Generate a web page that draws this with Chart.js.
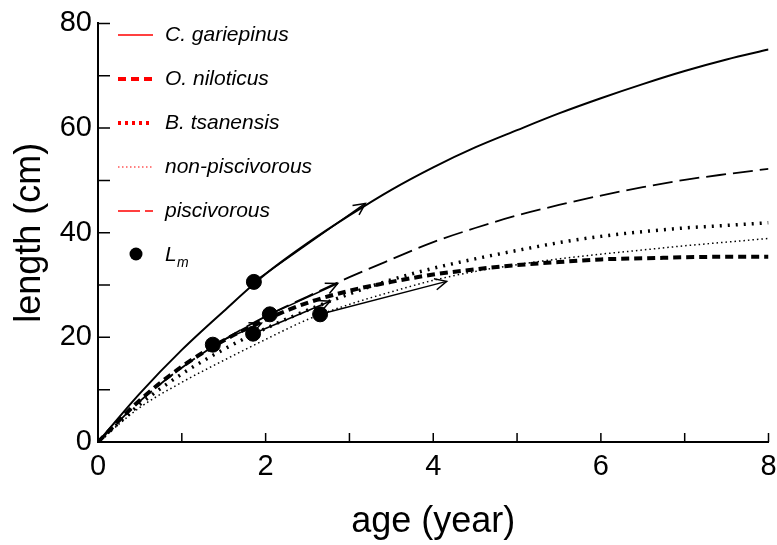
<!DOCTYPE html>
<html>
<head>
<meta charset="utf-8">
<script src="https://cdn.jsdelivr.net/npm/chart.js@4.4.0/dist/chart.umd.min.js"></script>
<style>
  html, body { margin: 0; padding: 0; background: #fff; }
  #wrap { width: 777px; height: 545px; }
</style>
</head>
<body>
<div id="wrap"><canvas id="mycanvas" width="777" height="545"></canvas></div>
<script>
// length at age (cm) for each growth curve
var ages        = [0, 0.5, 1, 1.5, 2, 2.5, 3, 3.5, 4, 4.5, 5, 5.5, 6, 6.5, 7, 7.5, 8];
var gariepinus  = [0, 9.3, 17.6, 25.0, 32.1, 38.0, 43.3, 48.2, 52.5, 56.3, 59.6, 62.8, 65.7, 68.4, 70.9, 73.1, 75.0];
var niloticus   = [0, 8.0, 14.4, 19.4, 23.4, 26.6, 28.9, 30.6, 32.0, 33.0, 33.8, 34.4, 34.9, 35.1, 35.3, 35.4, 35.4];
var tsanensis   = [0, 7.2, 13.0, 17.7, 21.7, 25.2, 28.3, 31.0, 33.2, 35.0, 36.6, 38.1, 39.3, 40.2, 40.9, 41.4, 41.9];
var nonPisc     = [0, 6.6, 11.4, 15.6, 19.6, 23.4, 26.3, 28.7, 30.9, 32.6, 33.9, 35.0, 35.9, 36.7, 37.5, 38.2, 38.9];
var pisc        = [0, 7.8, 14.2, 19.5, 24.0, 27.8, 31.5, 34.9, 38.2, 40.9, 43.3, 45.3, 47.1, 48.7, 50.1, 51.2, 52.2];

var seriesNames  = ['C. gariepinus', 'O. niloticus', 'B. tsanensis', 'non-piscivorous', 'piscivorous'];
var seriesValues = [gariepinus, niloticus, tsanensis, nonPisc, pisc];

// length at maturity
var lmAge    = [1.37, 1.86, 1.85, 2.05, 2.65];
var lmLength = [18.6, 30.6, 20.7, 24.4, 24.4];
// arrows start at each Lm point
var arrowEndAge    = [1.95, 3.19, 2.77, 2.86, 4.16];
var arrowEndLength = [22.7, 45.6, 26.9, 30.3, 30.7];

// line styles
var lineWidths = [2, 4, 3.5, 1.5, 1.8];
var chartDash  = [[], [8, 5], [2, 6], [1.5, 3], [20, 7]];
var legendDash = [[], [8, 5], [3, 4], [1.5, 2.5], [22, 5]];

var FONT = "'Liberation Sans', Arial, sans-serif";

var datasets = [];
for (var s = 0; s < seriesValues.length; s++) {
  var pts = [];
  for (var i = 0; i < ages.length; i++) {
    pts.push({ x: ages[i], y: seriesValues[s][i] });
  }
  datasets.push({
    label: seriesNames[s],
    data: pts,
    showLine: true,
    borderColor: '#000',
    borderWidth: lineWidths[s],
    borderDash: chartDash[s],
    pointRadius: 0,
    cubicInterpolationMode: 'monotone',
    fill: false,
    order: 2
  });
}
for (var a = 0; a < lmAge.length; a++) {
  datasets.push({
    label: 'arrow',
    isArrow: true,
    data: [{ x: lmAge[a], y: lmLength[a] }, { x: arrowEndAge[a], y: arrowEndLength[a] }],
    showLine: true,
    borderColor: '#000',
    borderWidth: 1.5,
    pointRadius: 0,
    order: 1
  });
}
var lmPts = [];
for (var k = 0; k < lmAge.length; k++) lmPts.push({ x: lmAge[k], y: lmLength[k] });
datasets.push({
  label: 'Lm',
  data: lmPts,
  showLine: false,
  pointRadius: 7.5,
  pointBackgroundColor: '#000',
  pointBorderColor: '#000',
  order: 0
});

// tick marks pointing into the plot
var innerTicks = {
  id: 'innerTicks',
  afterDraw: function(chart) {
    var ctx = chart.ctx, area = chart.chartArea;
    var xs = chart.scales.x, ys = chart.scales.y;
    ctx.save();
    ctx.strokeStyle = '#000';
    ctx.lineWidth = 1.5;
    ctx.beginPath();
    xs.ticks.forEach(function(t) {
      var px = xs.getPixelForValue(t.value);
      ctx.moveTo(px, area.bottom);
      ctx.lineTo(px, area.bottom - 9);
    });
    ys.ticks.forEach(function(t) {
      var py = ys.getPixelForValue(t.value);
      ctx.moveTo(area.left, py);
      ctx.lineTo(area.left + 12, py);
    });
    ctx.stroke();
    ctx.restore();
  }
};

// open arrow heads at the end of each arrow line
var arrowHeads = {
  id: 'arrowHeads',
  afterDatasetsDraw: function(chart) {
    var ctx = chart.ctx;
    ctx.save();
    ctx.strokeStyle = '#000';
    ctx.lineWidth = 1.5;
    chart.data.datasets.forEach(function(ds, i) {
      if (!ds.isArrow) return;
      var pts = chart.getDatasetMeta(i).data;
      var p0 = pts[0], p1 = pts[1];
      var ang = Math.atan2(p1.y - p0.y, p1.x - p0.x);
      var len = 13, spread = 0.45;
      ctx.beginPath();
      ctx.moveTo(p1.x - len * Math.cos(ang - spread), p1.y - len * Math.sin(ang - spread));
      ctx.lineTo(p1.x, p1.y);
      ctx.lineTo(p1.x - len * Math.cos(ang + spread), p1.y - len * Math.sin(ang + spread));
      ctx.stroke();
    });
    ctx.restore();
  }
};

// legend in the upper left corner of the plot
var cornerLegend = {
  id: 'cornerLegend',
  afterDraw: function(chart) {
    var ctx = chart.ctx;
    var x0 = 118, x1 = 153, tx = 165, y = 35, step = 44;
    ctx.save();
    ctx.textBaseline = 'middle';
    ctx.fillStyle = '#000';
    ctx.font = 'italic 21px ' + FONT;
    for (var s = 0; s < seriesNames.length; s++) {
      var ly = y + s * step;
      ctx.strokeStyle = '#ff0000';
      ctx.lineWidth = s === 0 || s === 4 ? 1.5 : (s === 3 ? 1.2 : 4);
      ctx.setLineDash(legendDash[s]);
      ctx.beginPath();
      ctx.moveTo(x0, ly);
      ctx.lineTo(x1, ly);
      ctx.stroke();
      ctx.fillText(seriesNames[s], tx, ly);
    }
    ctx.setLineDash([]);
    var ly2 = y + seriesNames.length * step;
    ctx.beginPath();
    ctx.arc(136, ly2 - 1, 6.5, 0, Math.PI * 2);
    ctx.fill();
    ctx.fillText('L', tx, ly2);
    ctx.font = 'italic 14px ' + FONT;
    ctx.fillText('m', tx + 12, ly2 + 8);
    ctx.restore();
  }
};

var ctx = document.getElementById('mycanvas');
var growthChart = new Chart(ctx, {
  type: 'scatter',
  data: { datasets: datasets },
  options: {
    responsive: false,
    animation: false,
    devicePixelRatio: 1,
    layout: { padding: { top: 20, right: 0, left: 0, bottom: 0 } },
    plugins: {
      legend: { display: false },
      tooltip: { enabled: false }
    },
    scales: {
      x: {
        type: 'linear',
        min: 0,
        max: 8,
        grid: { display: false, drawTicks: false },
        border: { display: true, color: '#000', width: 2 },
        ticks: {
          stepSize: 1,
          color: '#000',
          padding: 8,
          maxRotation: 0,
          font: { family: FONT, size: 29 },
          callback: function(v) { return v % 2 === 0 ? v : ''; }
        },
        title: {
          display: true,
          text: 'age (year)',
          color: '#000',
          font: { family: FONT, size: 36 },
          padding: { top: 0, bottom: 1 }
        },
        afterFit: function(scale) {
          scale.height = 103;
          scale.paddingLeft = 0;
          scale.paddingRight = 8;
        }
      },
      y: {
        min: 0,
        max: 80,
        grid: { display: false, drawTicks: false },
        border: { display: true, color: '#000', width: 2 },
        ticks: {
          stepSize: 10,
          color: '#000',
          padding: 6,
          font: { family: FONT, size: 29 },
          callback: function(v) { return v % 20 === 0 ? v : ''; }
        },
        title: {
          display: true,
          text: 'length (cm)',
          color: '#000',
          font: { family: FONT, size: 36 },
          padding: { top: 8, bottom: 0 }
        },
        afterFit: function(scale) { scale.width = 98; }
      }
    }
  },
  plugins: [innerTicks, arrowHeads, cornerLegend]
});
</script>
</body>
</html>
